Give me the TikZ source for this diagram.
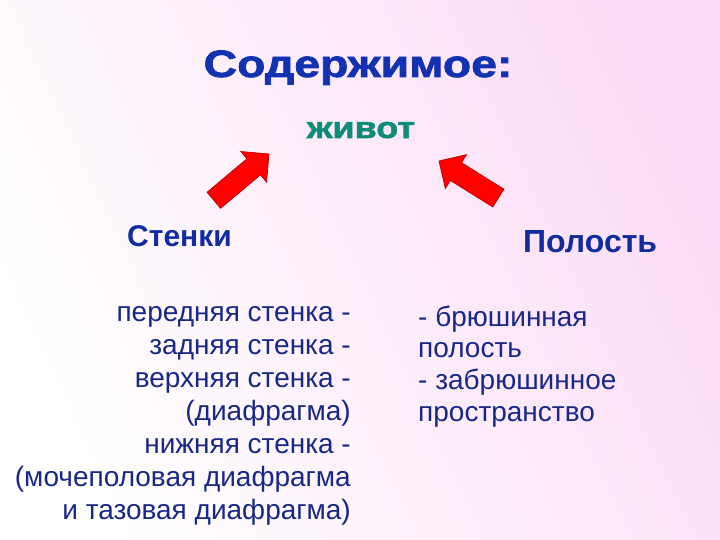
\documentclass[tikz,border=0pt]{standalone}
\usepackage{fontspec}
\setmainfont{Liberation Sans}
\newfontfamily\widefont[FakeStretch=1.22,FakeBold=2]{Liberation Sans Bold}
\newfontfamily\widerfont[FakeStretch=1.2,FakeBold=1.8]{Liberation Sans Bold}
\definecolor{bgpink}{RGB}{252,220,246}
\definecolor{titleblue}{RGB}{18,50,178}
\definecolor{headblue}{RGB}{16,44,160}
\definecolor{textblue}{RGB}{24,40,135}
\definecolor{teal}{RGB}{14,140,122}
\definecolor{arrowred}{RGB}{255,0,0}
\definecolor{arrowedge}{RGB}{190,0,0}
\tikzset{
  titletext/.style={inner sep=0pt, anchor=base, text=titleblue, font=\widefont\fontsize{38}{40}\selectfont},
  maintext/.style={inner sep=0pt, anchor=base, text=teal, font=\widerfont\fontsize{30}{32}\selectfont},
  headtext/.style={inner sep=0pt, anchor=base west, text=headblue, font=\bfseries\fontsize{#1}{#1}\selectfont},
  lefttext/.style={inner sep=0pt, anchor=base east, text=textblue, font=\fontsize{28}{33}\selectfont},
  righttext/.style={inner sep=0pt, anchor=base west, text=textblue, font=\fontsize{28}{33}\selectfont},
  blockarrow/.style={fill=arrowred, draw=arrowedge, line width=0.7pt, line join=miter}
}
\begin{document}
\begin{tikzpicture}[x=1pt,y=1pt]
\useasboundingbox (0,0) rectangle (720,540);
\shade[left color=white, right color=bgpink, shading angle=115] (0,0) rectangle (720,540);

\node[titletext] (title) at (358,463) {Содержимое:};
\node[maintext] (belly) at (361,402) {живот};
\node[headtext=30] (walls) at (127,293) {Стенки};
\node[headtext=32] (cavity) at (523,287) {Полость};

% block arrows (tip at origin, pointing along +x)
\draw[blockarrow, shift={(269,386)}, rotate=40]
  (0,0) -- (-20,20) -- (-20,10.5) -- (-72,10.5) -- (-72,-10.5) -- (-20,-10.5) -- (-20,-20) -- cycle;
\draw[blockarrow, shift={(439,379)}, rotate=148]
  (0,0) -- (-20,20) -- (-20,10.5) -- (-70,10.5) -- (-70,-10.5) -- (-20,-10.5) -- (-20,-20) -- cycle;

\node[lefttext] (l1) at (351,218) {передняя стенка -};
\node[lefttext] (l2) at (351,185) {задняя стенка -};
\node[lefttext] (l3) at (351,152) {верхняя стенка -};
\node[lefttext] (l4) at (351,119) {(диафрагма)};
\node[lefttext] (l5) at (351,86) {нижняя стенка -};
\node[lefttext] (l6) at (351,53) {(мочеполовая диафрагма};
\node[lefttext] (l7) at (351,20) {и тазовая диафрагма)};

\node[righttext] (r1) at (418,213) {- брюшинная};
\node[righttext] (r2) at (418,182) {полость};
\node[righttext] (r3) at (418,150) {- забрюшинное};
\node[righttext] (r4) at (418,118) {пространство};
\end{tikzpicture}
\end{document}
